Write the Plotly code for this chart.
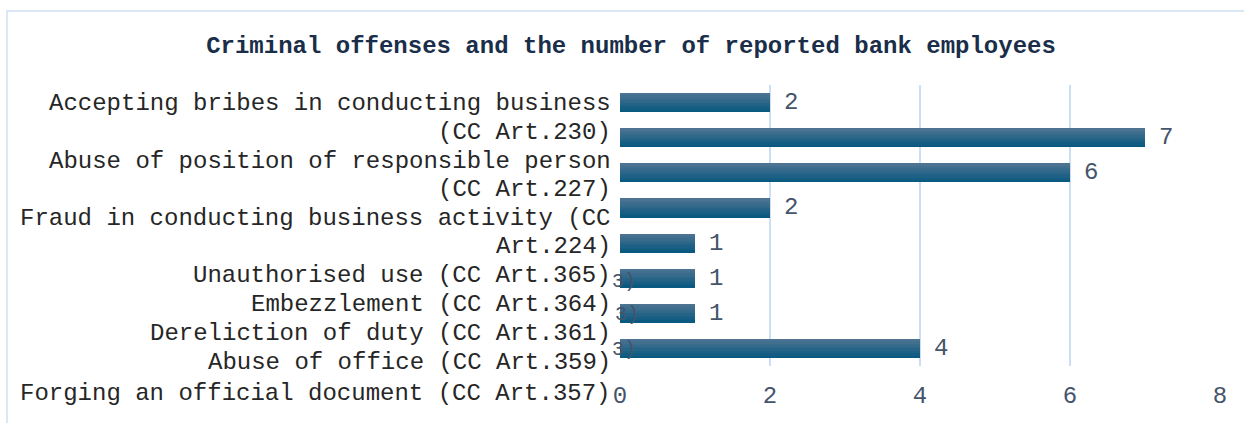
import plotly.graph_objects as go

# ---- data ----
categories = [
    "Accepting bribes in conducting business (CC Art.230)",
    "Abuse of position of responsible person (CC Art.227)",
    "Fraud in conducting business activity (CC Art.224)",
    "Unauthorised use (CC Art.365)",
    "Embezzlement (CC Art.364)",
    "Dereliction of duty (CC Art.361)",
    "Abuse of office (CC Art.359)",
    "Forging an official document (CC Art.357)",
]
values = [2, 7, 6, 2, 1, 1, 1, 4]
label_lines = [
    "Accepting bribes in conducting business",
    "(CC Art.230)",
    "Abuse of position of responsible person",
    "(CC Art.227)",
    "Fraud in conducting business activity (CC",
    "Art.224)",
    "Unauthorised use (CC Art.365)",
    "Embezzlement (CC Art.364)",
    "Dereliction of duty (CC Art.361)",
    "Abuse of office (CC Art.359)",
    "Forging an official document (CC Art.357)",
]
x_ticks = [0, 2, 4, 6, 8]
title_text = "Criminal offenses and the number of reported bank employees"

# ---- layout constants ----
W, H = 1244, 423
ML, MR, MT, MB = 620, 24, 85, 57
plot_h = H - MT - MB
FONT = "Liberation Mono, Courier New, monospace"

fig = go.Figure()

# bars drawn as stacked bands to imitate the vertical gradient
bar_w = 0.54
n_bands = 8
top_rgb = (76, 115, 145)
bot_rgb = (10, 89, 128)
for k in range(n_bands):
    t = k / (n_bands - 1)
    col = tuple(round(top_rgb[i] + (bot_rgb[i] - top_rgb[i]) * t) for i in range(3))
    fig.add_trace(go.Bar(
        x=values, y=categories, orientation="h",
        width=bar_w / n_bands + 0.004,
        offset=-bar_w / 2 + k * bar_w / n_bands,
        marker=dict(color="rgb(%d,%d,%d)" % col, line=dict(width=0)),
        hoverinfo="skip", showlegend=False,
    ))

annotations = []
# data labels
for c, v in zip(categories, values):
    annotations.append(dict(
        x=v, y=c, xref="x", yref="y", text=str(v), showarrow=False,
        xanchor="left", yanchor="middle", xshift=12,
        font=dict(family=FONT, size=24, color="#44546A"),
    ))

# wrapped category labels (as drawn in the reference)
line_px = [103, 132, 161, 189, 218, 247, 275, 304, 333, 362, 393]
for txt, py in zip(label_lines, line_px):
    annotations.append(dict(
        x=0, y=(H - MB - py) / plot_h, xref="paper", yref="paper",
        text=txt, showarrow=False, xanchor="right", yanchor="middle",
        xshift=-7, font=dict(family=FONT, size=24, color="#262626"),
    ))

# clipped label remnants visible over the bars
frag = [("3)", 281, 18), ("3)", 314, 21), ("3)", 349, 18)]
for txt, py, xs in frag:
    annotations.append(dict(
        x=0, y=(H - MB - py) / plot_h, xref="paper", yref="paper",
        text=txt, showarrow=False, xanchor="right", yanchor="middle",
        xshift=xs, font=dict(family=FONT, size=20, color="#44546A"),
    ))

fig.update_layout(
    width=W, height=H,
    margin=dict(l=ML, r=MR, t=MT, b=MB),
    paper_bgcolor="white", plot_bgcolor="white",
    barmode="overlay", bargap=0,
    title=dict(
        text="<b>%s</b>" % title_text, x=631 / W, xref="container", xanchor="center",
        y=1 - 45 / H, yref="container", yanchor="middle",
        font=dict(family=FONT, size=24, color="#1A2E4A"),
    ),
    xaxis=dict(
        range=[0, 8], tickvals=x_ticks, showgrid=True, gridcolor="#CCDEF3",
        gridwidth=2, zeroline=False, showline=False, ticks="",
        ticklabelstandoff=12,
        tickfont=dict(family=FONT, size=24, color="#44546A"),
        fixedrange=True,
    ),
    yaxis=dict(
        categoryorder="array", categoryarray=categories,
        range=[len(categories) - 0.5, -0.5], showticklabels=False,
        showgrid=False, zeroline=False, showline=False, ticks="",
        fixedrange=True,
    ),
    annotations=annotations,
    shapes=[dict(
        type="rect", xref="paper", yref="paper", layer="below",
        x0=(7 - ML) / (W - ML - MR), x1=(W + 10 - ML) / (W - ML - MR),
        y0=(H - MB - (H + 10)) / plot_h, y1=(H - MB - 11) / plot_h,
        line=dict(color="#CFE0F3", width=1.5), fillcolor="rgba(0,0,0,0)",
    )],
)

fig.write_html("out.html", config={"displayModeBar": False},
               post_script="document.body.style.margin='0';")
